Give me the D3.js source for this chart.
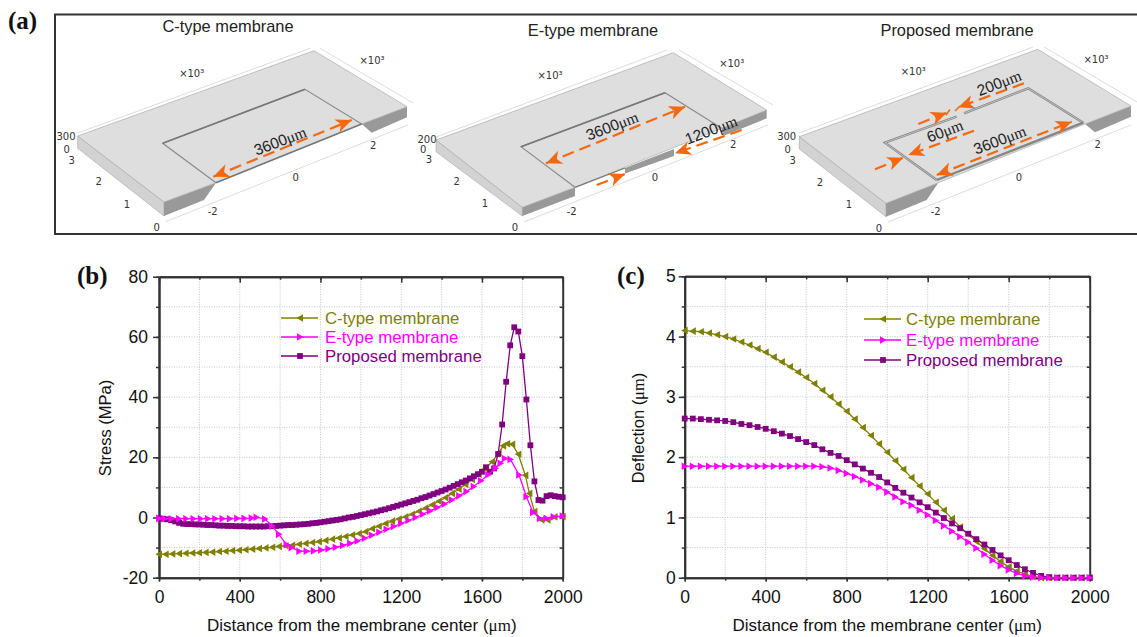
<!DOCTYPE html>
<html lang="en">
<head>
    <meta charset="UTF-8">
    <title>Membrane stress and deflection</title>
    <style>
        body { margin: 0; background: #fff; overflow: hidden; }
        svg { display: block; font-family: "Liberation Sans", Arial, sans-serif; }
        .grid line { stroke: #c4c4c4; stroke-width: 1; stroke-dasharray: 1 1.5; }
        .axis path, .axis line { stroke: #333; }
        .axis path { stroke-width: 2; }
        .axis line { stroke-width: 1.5; }
        .axis text { font-size: 17.5px; fill: #111; font-family: "Liberation Sans", Arial, sans-serif; }
        .tag { font-family: "Liberation Serif", serif; font-weight: bold; font-size: 25px; fill: #111; }
        .model-tick { font-family: "DejaVu Sans", sans-serif; font-size: 10px; fill: #333; text-anchor: middle; }
        .dim { font-size: 15.5px; fill: #222; text-anchor: middle; }
        .title3d { font-size: 16.4px; fill: #222; text-anchor: middle; }
    </style>
</head>
<body>
    <svg id="chart" width="1137" height="637"></svg>
    <script src="https://d3js.org/d3.v7.min.js"></script>
    <script>
        // series names and colours
        const names = ["C-type membrane", "E-type membrane", "Proposed membrane"];
        const colors = ["#808000", "#ff00ff", "#800080"];

        const stressTicksY = [-20, 0, 20, 40, 60, 80];
        const deflectionTicksY = [0, 1, 2, 3, 4, 5];
        const ticksX = [0, 400, 800, 1200, 1600, 2000];

        // (b) stress
        const stressCx = [0, 33, 66, 99, 132, 165, 198, 231, 264, 297, 330, 363, 396, 429, 462, 495, 528, 561, 594, 627, 660, 693, 726, 759, 792, 825, 858, 891, 924, 957, 990, 1023, 1056, 1089, 1122, 1155, 1188, 1221, 1254, 1287, 1320, 1353, 1386, 1419, 1452, 1485, 1518, 1551, 1584, 1617, 1650, 1683, 1705, 1725, 1750, 1780, 1815, 1835, 1860, 1895, 1925, 1960, 2000];
        const stressC = [-12.2, -12.2, -12.1, -12, -11.9, -11.8, -11.7, -11.6, -11.5, -11.3, -11.2, -11, -10.9, -10.7, -10.5, -10.3, -10.1, -9.9, -9.6, -9.4, -9.2, -8.9, -8.6, -8.3, -8, -7.6, -7.2, -6.8, -6.3, -5.8, -5.3, -4.7, -3.7, -2.9, -2, -1.2, -0.5, 0.2, 1.1, 2.1, 3.1, 4.2, 5.4, 6.6, 8, 9.4, 11, 12.6, 14.4, 16.2, 18.5, 21.5, 23.8, 24.5, 24.3, 21, 14, 8, 2, -0.8, -0.8, 0.2, 0.3];

        const stressEx = [0, 27, 63, 99, 135, 171, 207, 243, 279, 315, 351, 387, 423, 459, 483, 525, 560, 594, 632, 657, 695, 731, 767, 803, 839, 875, 911, 947, 983, 1019, 1055, 1091, 1127, 1163, 1199, 1235, 1271, 1307, 1343, 1379, 1415, 1451, 1487, 1523, 1559, 1595, 1631, 1667, 1692, 1713, 1741, 1784, 1820, 1853, 1887, 1920, 1955, 2000];
        const stressE = [-0.3, -0.4, -0.4, -0.4, -0.4, -0.4, -0.4, -0.4, -0.4, -0.4, -0.4, -0.3, -0.3, -0.2, 0.1, -0.5, -2.8, -5.6, -9, -10, -11.2, -11.2, -11.1, -10.8, -10.4, -9.9, -9.3, -8.6, -7.8, -6.9, -5.9, -4.9, -3.9, -3, -2, -1, 0, 1.1, 2.2, 3.3, 4.5, 5.8, 7.2, 8.6, 10.3, 12.2, 14.2, 16.4, 18, 19.6, 19.3, 14.1, 6.9, 1.7, -0.3, -0.3, 0.2, 0.5];

        const stressPx = d3.range(0, 2001, 20);
        const stressP = [-0.3, -0.4, -0.6, -0.9, -1.3, -1.8, -2.1, -2.2, -2.2, -2.3, -2.3, -2.4, -2.5, -2.5, -2.6, -2.7, -2.7, -2.8, -2.8, -2.9, -2.9, -2.9, -3, -3, -3, -3, -3, -2.9, -2.9, -2.8, -2.7, -2.6, -2.5, -2.5, -2.4, -2.3, -2.2, -2.1, -1.9, -1.8, -1.6, -1.4, -1.2, -1, -0.8, -0.6, -0.3, 0, 0.2, 0.5, 0.8, 1.1, 1.4, 1.7, 2, 2.4, 2.7, 3.1, 3.5, 3.9, 4.3, 4.7, 5.1, 5.5, 5.9, 6.4, 6.8, 7.3, 7.8, 8.3, 8.8, 9.3, 9.9, 10.5, 11.1, 11.7, 12.3, 13, 13.7, 14.4, 15.2, 16.7, 15.2, 16.3, 21.1, 30.9, 45.1, 57.2, 63.2, 61.8, 53.6, 39.2, 24, 12, 5.8, 5.6, 7.1, 7.4, 7.1, 6.9, 6.7];

        // (c) deflection, one point every 40 um
        const deflectionX = d3.range(0, 2001, 40);
        const deflectionC = [4.1, 4.09, 4.08, 4.06, 4.03, 4, 3.96, 3.91, 3.86, 3.8, 3.74, 3.66, 3.58, 3.5, 3.41, 3.32, 3.22, 3.11, 3, 2.88, 2.76, 2.63, 2.49, 2.36, 2.22, 2.08, 1.94, 1.8, 1.66, 1.52, 1.39, 1.25, 1.12, 0.98, 0.84, 0.72, 0.6, 0.48, 0.37, 0.27, 0.18, 0.11, 0.06, 0.02, 0, 0, 0, 0, 0, 0, 0];
        const deflectionE = [1.85, 1.85, 1.85, 1.85, 1.85, 1.85, 1.85, 1.85, 1.85, 1.85, 1.85, 1.85, 1.85, 1.85, 1.85, 1.85, 1.85, 1.84, 1.82, 1.78, 1.73, 1.68, 1.62, 1.56, 1.5, 1.42, 1.34, 1.26, 1.2, 1.12, 1.04, 0.95, 0.86, 0.77, 0.68, 0.59, 0.49, 0.39, 0.29, 0.2, 0.13, 0.07, 0.03, 0.01, 0, 0, 0, 0, 0, 0, 0];
        const deflectionP = [2.64, 2.64, 2.63, 2.62, 2.61, 2.6, 2.58, 2.55, 2.53, 2.5, 2.47, 2.43, 2.39, 2.35, 2.3, 2.25, 2.2, 2.13, 2.07, 2.02, 1.95, 1.88, 1.81, 1.74, 1.67, 1.58, 1.49, 1.41, 1.33, 1.25, 1.17, 1.08, 0.99, 0.9, 0.82, 0.73, 0.64, 0.55, 0.46, 0.37, 0.29, 0.21, 0.14, 0.08, 0.03, 0.01, 0, 0, 0, 0, 0];

        const svg = d3.select("#chart");
        const orange = "#f4690f";

        // ---- panel (a): the three membrane drawings ----
        const outline = d3.line();

        function poly(pts, fill, stroke, w) {
            svg.append("path").attr("d", outline(pts) + "Z")
                .attr("fill", fill).attr("stroke", stroke || "none").attr("stroke-width", w || 0);
        }
        function seg(pts, stroke, w) {
            svg.append("path").attr("d", outline(pts)).attr("fill", "none")
                .attr("stroke", stroke).attr("stroke-width", w);
        }
        function head(x, y, angle) {
            svg.append("path").attr("d", "M0,0L-16,-7L-11.5,0L-16,7Z")
                .attr("fill", orange)
                .attr("transform", `translate(${x},${y}) rotate(${angle})`);
        }
        // dashed arrow, heads says which ends get an arrowhead
        function arrow(x1, y1, x2, y2, heads) {
            svg.append("line").attr("x1", x1).attr("y1", y1).attr("x2", x2).attr("y2", y2)
                .attr("stroke", orange).attr("stroke-width", 2.2).attr("stroke-dasharray", "12 6");
            const a = Math.atan2(y2 - y1, x2 - x1) * 180 / Math.PI;
            if (heads === "both" || heads === "end") head(x2, y2, a);
            if (heads === "both") head(x1, y1, a + 180);
        }
        function dim(x, y, label) {
            const t = svg.append("text").attr("class", "dim")
                .attr("transform", `translate(${x},${y}) rotate(-21)`);
            t.append("tspan").text(label);
            t.append("tspan").attr("font-family", "Liberation Serif").text("\u03bcm");
        }
        function modelTicks(list) {
            list.forEach(d => svg.append("text").attr("class", "model-tick")
                .attr("x", d[0]).attr("y", d[1] + 4).text(d[2]));
        }
        function backBox(a, b, c, d) {
            seg([a, b], "#dcdcdc", 1);
            seg([c, d], "#dcdcdc", 1);
        }

        svg.append("rect").attr("x", 55).attr("y", 14.5).attr("width", 1090).attr("height", 219.5)
            .attr("fill", "none").attr("stroke", "#333").attr("stroke-width", 2);
        svg.append("text").attr("class", "tag").attr("x", 8).attr("y", 29).text("(a)");
        svg.append("text").attr("class", "title3d").attr("x", 228).attr("y", 32).text(names[0]);
        svg.append("text").attr("class", "title3d").attr("x", 593).attr("y", 36).text(names[1]);
        svg.append("text").attr("class", "title3d").attr("x", 957).attr("y", 36).text(names[2]);

        // C-type
        backBox([77.7, 133], [310, 48.3], [320, 48.3], [413, 103]);
        seg([[165.7, 221.7], [408, 125]], "#dcdcdc", 1);
        poly([[77.7, 136], [164, 202], [164, 216], [77.7, 148.3]], "#d2d2d2", "#999", 0.5);
        poly([[164, 202], [216, 182.7], [204, 200], [164, 216]], "#999");
        poly([[361.7, 124], [407, 106.7], [407, 117.3], [371.7, 132.7]], "#999");
        poly([[77.7, 136], [314, 50.7], [407, 106.7], [361.7, 124], [216, 182.7], [164, 202]], "#dedede", "#aaa", 0.7);
        seg([[361.7, 124], [305, 89.3], [162.7, 143.3], [216, 182.7]], "#8a8a8a", 1.1);
        seg([[305, 89.3], [162.7, 143.3]], "#777", 1.7);
        seg([[216, 182.7], [361.7, 124]], "#777", 1.5);
        arrow(213.3, 176.7, 351.7, 120, "both");
        dim(282, 146, "3600");
        modelTicks([[191.7, 72.7, "\u00d710\u00b3"], [372, 60, "\u00d710\u00b3"], [66, 136, "300"], [66.7, 149, "0"], [71.7, 160, "3"], [98.7, 181, "2"], [127, 204, "1"], [156.7, 226.7, "0"], [212.7, 210.7, "-2"], [295.7, 176.7, "0"], [373.3, 145, "2"]]);

        // E-type
        backBox([436, 137], [667, 50], [679, 50], [773, 105]);
        seg([[524, 222], [768, 125]], "#dcdcdc", 1);
        poly([[436, 140], [522.3, 207.3], [522.3, 216], [436, 151.7]], "#d2d2d2", "#999", 0.5);
        poly([[522.3, 207.3], [575, 187.3], [575, 196], [522.3, 216]], "#999");
        poly([[625, 168], [674, 149], [674, 156], [625, 173.5]], "#999");
        poly([[721.7, 128.3], [766.7, 110], [766.7, 118.3], [723.3, 136]], "#999");
        poly([[436, 140], [673.3, 52.7], [766.7, 110], [721.7, 128.3], [575, 187.3], [522.3, 207.3]], "#dedede", "#aaa", 0.7);
        seg([[721.7, 128.3], [665, 92.7], [521, 146.7], [575, 187.3]], "#8a8a8a", 1.1);
        seg([[665, 92.7], [521, 146.7]], "#777", 1.7);
        seg([[575, 187.3], [625, 168]], "#777", 1.3);
        arrow(546, 163.3, 685, 106.7, "both");
        dim(614, 131, "3600");
        arrow(741.7, 130, 675, 153.3, "end");
        dim(713, 135, "1200");
        arrow(596.7, 185, 625, 174, "end");
        modelTicks([[550, 75, "\u00d710\u00b3"], [731.7, 62.7, "\u00d710\u00b3"], [427, 139, "200"], [423.3, 149, "0"], [429, 159, "3"], [456.7, 181, "2"], [485, 203.3, "1"], [515, 227, "0"], [571.7, 210.7, "-2"], [655, 176.7, "0"], [733.3, 144, "2"]]);

        // proposed
        backBox([799, 133], [1033, 47], [1044, 47], [1137, 102]);
        seg([[888, 222], [1131, 125]], "#dcdcdc", 1);
        poly([[799.3, 136.7], [886, 203.3], [886, 216.7], [799.3, 149]], "#d2d2d2", "#999", 0.5);
        poly([[886, 203.3], [938.3, 182.7], [926.7, 200], [886, 216.7]], "#999");
        poly([[1085, 124], [1131, 106], [1131, 116.7], [1095, 132.3]], "#999");
        poly([[799.3, 136.7], [1037.7, 49.3], [1131, 106], [1085, 124], [938.3, 182.7], [886, 203.3]], "#dedede", "#aaa", 0.7);
        // slit with its pale floor, broken where the 60 um bridge is
        [[[956.7, 116.7], [885, 142.7], [936.7, 180]], [[964, 113.3], [1028.3, 88.3], [1083.3, 122.7]]].forEach(p => {
            seg(p, "#858585", 2.4);
            seg(p, "#d8d8d8", 0.7);
        });
        seg([[936.7, 180], [1083.3, 122.7]], "#858585", 2.4);
        arrow(1024, 83.3, 958.3, 107.3, "end");
        dim(1001, 88, "200");
        arrow(918.3, 124, 946.7, 112.7, "end");
        seg([[946, 115], [950, 109.5]], orange, 1.6);
        seg([[955, 111], [960, 106]], orange, 1.6);
        arrow(974, 130.7, 908.3, 155, "end");
        dim(946.7, 136, "60");
        arrow(875, 169.3, 903.3, 157.7, "end");
        arrow(936.7, 175, 1071.7, 121.7, "both");
        dim(1001.7, 145, "3600");
        modelTicks([[913.3, 71, "\u00d710\u00b3"], [1096, 59, "\u00d710\u00b3"], [786.7, 136, "300"], [787.7, 149, "0"], [792.7, 160, "3"], [820, 181.7, "2"], [849, 204, "1"], [879, 227.7, "0"], [935.7, 211, "-2"], [1019, 176.7, "0"], [1097.7, 144.3, "2"]]);

        // ---- panels (b) and (c) ----
        const markers = {
            left: "M-3.6,0L3,-3.8L3,3.8Z",
            right: "M3.6,0L-3,-3.8L-3,3.8Z",
            square: "M-2.9,-2.9H2.9V2.9H-2.9Z"
        };

        function plot(o) {
            const x = d3.scaleLinear().domain([0, 2000]).range(o.xRange);
            const y = d3.scaleLinear().domain(o.yDomain).range(o.yRange);
            const g = svg.append("g");

            const minorX = d3.range(0, 2001, 200);
            const minorY = d3.range(o.yDomain[0], o.yDomain[1] + 1e-9, o.minorStep);

            const grid = g.append("g").attr("class", "grid");
            grid.selectAll(".gx").data(minorX.slice(1, -1)).join("line").attr("class", "gx")
                .attr("x1", x).attr("x2", x).attr("y1", o.yRange[0]).attr("y2", o.yRange[1]);
            grid.selectAll(".gy").data(minorY.slice(1, -1)).join("line").attr("class", "gy")
                .attr("x1", o.xRange[0]).attr("x2", o.xRange[1]).attr("y1", y).attr("y2", y);

            // minor ticks first, then the labelled axes
            const blank = () => "";
            g.append("g").attr("class", "axis").attr("transform", `translate(0,${o.yRange[0]})`)
                .call(d3.axisBottom(x).tickValues(minorX).tickSize(3).tickSizeOuter(0).tickFormat(blank));
            g.append("g").attr("class", "axis").attr("transform", `translate(${o.xRange[0]},0)`)
                .call(d3.axisLeft(y).tickValues(minorY).tickSize(3).tickSizeOuter(0).tickFormat(blank));
            g.append("g").attr("class", "axis").attr("transform", `translate(0,${o.yRange[1]})`)
                .call(d3.axisBottom(x).tickValues(ticksX).tickSize(6).tickSizeOuter(0).tickFormat(blank));
            g.append("g").attr("class", "axis").attr("transform", `translate(0,${o.yRange[1]})`)
                .call(d3.axisBottom(x).tickValues(minorX).tickSize(3).tickSizeOuter(0).tickFormat(blank));
            g.append("g").attr("class", "axis").attr("transform", `translate(${o.xRange[1]},0)`)
                .call(d3.axisLeft(y).tickValues(minorY).tickSize(3).tickSizeOuter(0).tickFormat(blank));
            g.append("g").attr("class", "axis").attr("transform", `translate(0,${o.yRange[0]})`)
                .call(d3.axisBottom(x).tickValues(ticksX).tickSize(4).tickSizeOuter(0).tickPadding(9).tickFormat(String));
            g.append("g").attr("class", "axis").attr("transform", `translate(${o.xRange[0]},0)`)
                .call(d3.axisLeft(y).tickValues(o.ticksY).tickSize(6).tickSizeOuter(0).tickPadding(o.yPad).tickFormat(String));

            const line = d3.line().x(d => x(d[0])).y(d => y(d[1]));
            o.series.forEach(s => {
                const pts = d3.zip(s.xs, s.ys);
                const c = g.append("g");
                c.append("path").attr("d", line(pts)).attr("fill", "none")
                    .attr("stroke", colors[s.i]).attr("stroke-width", 1.3);
                c.selectAll("path.m").data(pts).join("path").attr("class", "m")
                    .attr("d", markers[s.marker]).attr("fill", colors[s.i])
                    .attr("transform", d => `translate(${x(d[0])},${y(d[1])})`);
            });

            // legend
            const order = [
                { i: 0, marker: "left" },
                { i: 1, marker: "right" },
                { i: 2, marker: "square" }
            ];
            order.forEach((s, n) => {
                const ly = o.legendY[n];
                g.append("line").attr("x1", o.legendX).attr("x2", o.legendX + 37)
                    .attr("y1", ly).attr("y2", ly)
                    .attr("stroke", colors[s.i]).attr("stroke-width", 1.3);
                g.append("path").attr("d", markers[s.marker]).attr("fill", colors[s.i])
                    .attr("transform", `translate(${o.legendX + 19},${ly})`);
                g.append("text").attr("x", o.legendX + o.legendGap).attr("y", ly + 5.5)
                    .attr("font-size", 16.8).attr("fill", colors[s.i]).text(names[s.i]);
            });

            // axis titles
            const xt = g.append("text").attr("x", (o.xRange[0] + o.xRange[1]) / 2 + o.xTitleShift).attr("y", 631)
                .attr("text-anchor", "middle").attr("font-size", 17).attr("fill", "#111");
            xt.append("tspan").text("Distance from the membrane center (");
            xt.append("tspan").attr("font-family", "Liberation Serif").text("\u03bcm");
            xt.append("tspan").text(")");

            const yt = g.append("text")
                .attr("transform", `translate(${o.yTitleX},428) rotate(-90)`)
                .attr("text-anchor", "middle").attr("font-size", 16.5).attr("fill", "#111");
            o.yTitle.forEach(p => {
                const t = yt.append("tspan").text(p[0]);
                if (p[1]) t.attr("font-family", "Liberation Serif");
            });

            svg.append("text").attr("class", "tag").attr("x", o.tagX).attr("y", 284).text(o.tag);
        }

        plot({
            xRange: [159, 562.7], yRange: [577.7, 276.7], yDomain: [-20, 80], minorStep: 10,
            ticksY: stressTicksY, yPad: 5, tag: "(b)", tagX: 77,
            legendX: 281, legendGap: 44, legendY: [318, 337, 356],
            yTitle: [["Stress (MPa)"]], yTitleX: 111, xTitleShift: 1,
            series: [
                { i: 0, marker: "left", xs: stressCx, ys: stressC },
                { i: 2, marker: "square", xs: stressPx, ys: stressP },
                { i: 1, marker: "right", xs: stressEx, ys: stressE }
            ]
        });

        plot({
            xRange: [684.7, 1089.7], yRange: [577.7, 276.3], yDomain: [0, 5], minorStep: 0.5,
            ticksY: deflectionTicksY, yPad: 3, tag: "(c)", tagX: 617,
            legendX: 864, legendGap: 42, legendY: [319, 340, 360],
            yTitle: [["Deflection ("], ["\u03bcm", true], [")"]], yTitleX: 644, xTitleShift: 0,
            series: [
                { i: 0, marker: "left", xs: deflectionX, ys: deflectionC },
                { i: 2, marker: "square", xs: deflectionX, ys: deflectionP },
                { i: 1, marker: "right", xs: deflectionX, ys: deflectionE }
            ]
        });
    </script>
</body>
</html>
